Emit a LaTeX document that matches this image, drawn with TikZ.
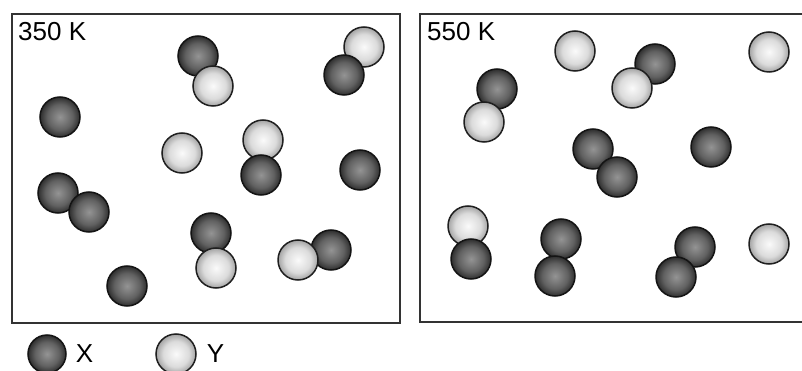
\documentclass[tikz,border=0pt]{standalone}
\usepackage{fontspec}
\setmainfont{Liberation Sans}
\usetikzlibrary{positioning}

% sphere shadings, edge of the circle at 25bp
\colorlet{xin}{black!42}
\colorlet{xmid}{black!62}
\colorlet{xout}{black!82}
\colorlet{yin}{black!2}
\colorlet{ymid}{black!14}
\colorlet{yout}{black!36}
\pgfdeclareradialshading{xball}{\pgfpoint{0bp}{0bp}}{color(0bp)=(xin); color(16bp)=(xmid); color(25bp)=(xout); color(50bp)=(xout)}
\pgfdeclareradialshading{yball}{\pgfpoint{0bp}{0bp}}{color(0bp)=(yin); color(16bp)=(ymid); color(25bp)=(yout); color(50bp)=(yout)}

\begin{document}
\begin{tikzpicture}[x=1pt, y=-1pt, font=\fontsize{26}{30}\selectfont]
\tikzstyle{atomX}=[circle, draw=black!92, line width=1.5pt, minimum size=40pt, inner sep=0pt, shading=xball]
\tikzstyle{atomY}=[circle, draw=black!88, line width=1.5pt, minimum size=40pt, inner sep=0pt, shading=yball]
\tikzstyle{box}=[draw=black!80, line width=1.6pt]
\tikzstyle{temp}=[anchor=base west, inner sep=0pt]

\useasboundingbox (0,0) rectangle (802,371);

% 350 K container
\draw[box] (12,14) rectangle (400,323);
\node[temp] (t1) at (18,41) {350 K};

\node[atomX] (a1)  at (198,56)  {};
\node[atomY] (a2)  at (213,86)  {};
\node[atomY] (a3)  at (364,47)  {};
\node[atomX] (a4)  at (344,75)  {};
\node[atomX] (a5)  at (60,117)  {};
\node[atomY] (a6)  at (182,153) {};
\node[atomY] (a7)  at (263,140) {};
\node[atomX] (a8)  at (261,175) {};
\node[atomX] (a9)  at (360,170) {};
\node[atomX] (a10) at (58,193)  {};
\node[atomX] (a11) at (89,212)  {};
\node[atomX] (a12) at (211,233) {};
\node[atomY] (a13) at (216,268) {};
\node[atomX] (a14) at (331,250) {};
\node[atomY] (a15) at (298,260) {};
\node[atomX] (a16) at (127,286) {};

% 550 K container
\draw[box] (420,14) rectangle (804,322);
\node[temp] (t2) at (427,41) {550 K};

\node[atomY] (b1)  at (575,51)  {};
\node[atomX] (b2)  at (655,64)  {};
\node[atomY] (b3)  at (632,88)  {};
\node[atomY] (b4)  at (769,52)  {};
\node[atomX] (b5)  at (497,89)  {};
\node[atomY] (b6)  at (484,122) {};
\node[atomX] (b7)  at (593,149) {};
\node[atomX] (b8)  at (617,177) {};
\node[atomX] (b9)  at (711,147) {};
\node[atomY] (b10) at (468,226) {};
\node[atomX] (b11) at (471,259) {};
\node[atomX] (b12) at (561,239) {};
\node[atomX] (b13) at (555,276) {};
\node[atomX] (b14) at (695,247) {};
\node[atomX] (b15) at (676,277) {};
\node[atomY] (b16) at (769,244) {};

% key
\node[atomX, minimum size=38pt] (keyX) at (47,354) {};
\node[inner sep=0pt, right=9pt of keyX] (labX) {X};
\node[atomY] (keyY) at (176,354) {};
\node[inner sep=0pt, right=10pt of keyY] (labY) {Y};

\end{tikzpicture}
\end{document}
